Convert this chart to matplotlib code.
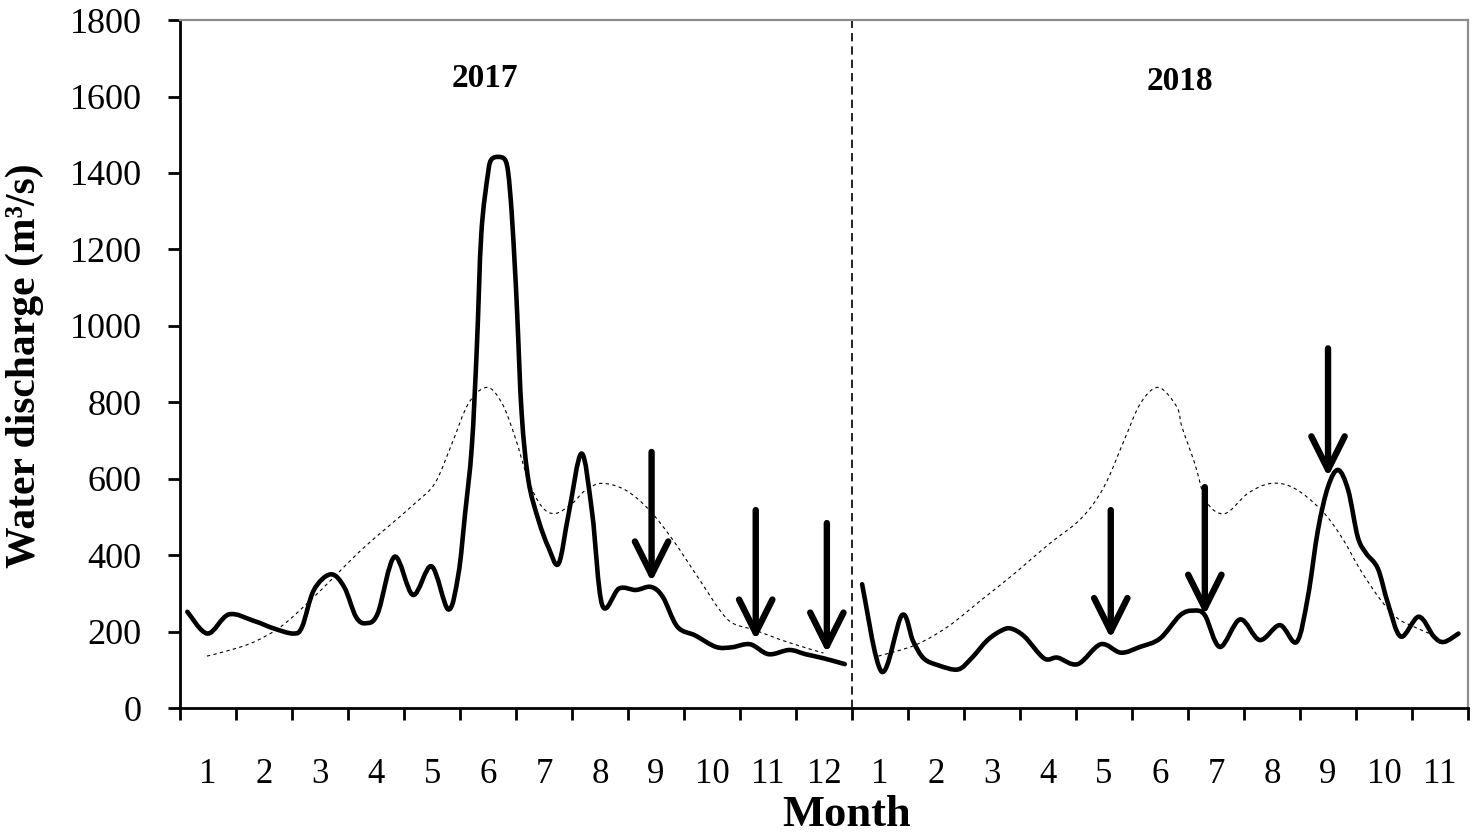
import matplotlib
matplotlib.use("Agg")
import matplotlib.pyplot as plt
from matplotlib.ticker import FixedLocator
from matplotlib.path import Path
from matplotlib.patches import PathPatch

plt.rcParams['font.family'] = ['Liberation Serif', 'DejaVu Serif']

# month positions: 0-12 = 2017, 12-23 = 2018 (x in month units)
months_2017 = [str(m) for m in range(1, 13)]
months_2018 = [str(m) for m in range(1, 12)]

t17 = [0.13, 0.49, 0.87, 1.32, 1.68, 2.03, 2.18, 2.39, 2.69, 2.93, 3.14, 3.32, 3.53,
       3.83, 4.16, 4.49, 4.79, 4.97, 5.09, 5.21, 5.30, 5.38, 5.50, 5.56, 5.68, 5.80,
       5.86, 5.92, 5.98, 6.02, 6.10, 6.22, 6.40, 6.58, 6.76, 6.94, 7.17, 7.36, 7.54,
       7.84, 8.14, 8.41, 8.62, 8.88, 9.20, 9.57, 9.85, 10.18, 10.51, 10.88, 11.17,
       11.50, 11.87]
q17 = [252, 195, 245, 228, 208, 195, 213, 309, 350, 317, 239, 222, 248,
       396, 296, 371, 258, 350, 509, 684, 945, 1242, 1400, 1435, 1442, 1435,
       1400, 1300, 1150, 1032, 771, 596, 492, 420, 378, 509, 666, 509, 269,
       313, 309, 317, 291, 213, 190, 160, 159, 167, 141, 152, 141,
       130, 115]

t18 = [12.18, 12.53, 12.89, 13.09, 13.28, 13.54, 13.89, 14.13, 14.42, 14.67, 14.84,
       15.08, 15.43, 15.67, 16.03, 16.44, 16.80, 17.14, 17.50, 17.86, 18.10, 18.30,
       18.57, 18.93, 19.28, 19.64, 19.94, 20.14, 20.32, 20.50, 20.68, 20.86, 21.03,
       21.18, 21.39, 21.57, 21.80, 22.12, 22.39, 22.57, 22.83]
q18 = [324, 95, 243, 175, 130, 112, 101, 130, 178, 203, 208,
       187, 130, 132, 115, 167, 145, 160, 182, 243, 255, 243,
       160, 232, 178, 217, 173, 291, 466, 579, 623, 570, 448,
       405, 365, 274, 187, 239, 187, 173, 195]

# multi-year mean (dotted)
tm17 = [0.48, 0.90, 1.32, 1.80, 2.27, 2.75, 3.23, 3.71, 4.19, 4.55, 4.85, 5.15, 5.48,
        5.75, 5.98, 6.22, 6.46, 6.70, 7.00, 7.24, 7.54, 7.96, 8.38, 8.80, 9.28, 9.64,
        9.87, 10.26, 10.84, 11.49]
qm17 = [136, 152, 173, 213, 274, 343, 413, 474, 535, 588, 690, 797, 839,
        797, 710, 596, 527, 509, 535, 570, 588, 570, 518, 440, 335, 256,
        222, 204, 173, 144]

tm18 = [12.47, 13.13, 13.71, 14.31, 14.90, 15.49, 16.09, 16.50, 16.86, 17.15, 17.47,
        17.80, 17.89, 18.12, 18.33, 18.66, 19.07, 19.49, 19.90, 20.38, 20.74, 21.08,
        21.44, 21.74, 22.03, 22.33]
qm18 = [136, 165, 213, 283, 352, 426, 496, 579, 701, 797, 839,
        788, 736, 640, 540, 509, 562, 588, 575, 518, 448, 361,
        283, 235, 213, 194]

# arrows: x position, tail value, tip value
arrow_t = [8.42, 10.28, 11.55, 16.62, 18.30, 20.50]
arrow_top = [670, 518, 484, 518, 578, 941]
arrow_tip = [330, 178, 144, 182, 243, 605]


def smooth_path(xs, ys):
    # excel-like smoothed line: cubic bezier through every point
    verts = [(xs[0], ys[0])]
    codes = [Path.MOVETO]
    n = len(xs)
    for i in range(n - 1):
        x0, y0 = (xs[i - 1], ys[i - 1]) if i > 0 else (xs[i], ys[i])
        x1, y1 = xs[i], ys[i]
        x2, y2 = xs[i + 1], ys[i + 1]
        x3, y3 = (xs[i + 2], ys[i + 2]) if i + 2 < n else (x2, y2)
        verts += [(x1 + (x2 - x0) / 6, y1 + (y2 - y0) / 6),
                  (x2 - (x3 - x1) / 6, y2 - (y3 - y1) / 6),
                  (x2, y2)]
        codes += [Path.CURVE4] * 3
    return Path(verts, codes)


fig = plt.figure(figsize=(14.76, 8.36), dpi=100)
ax = fig.add_axes([0.122, 0.153, 0.8726, 0.823])

for xs, ys in [(tm17, qm17), (tm18, qm18)]:
    ax.add_patch(PathPatch(smooth_path(xs, ys), fill=False, edgecolor='black',
                           lw=0.8, linestyle=(0, (3, 3))))
for xs, ys in [(t17, q17), (t18, q18)]:
    ax.add_patch(PathPatch(smooth_path(xs, ys), fill=False, edgecolor='black',
                           lw=3.3, joinstyle='round', capstyle='round'))

ax.axvline(12, color='black', lw=1.2, linestyle=(0, (5, 3)))

for x, top, tip in zip(arrow_t, arrow_top, arrow_tip):
    ax.annotate('', xy=(x, tip), xytext=(x, top),
                arrowprops=dict(arrowstyle='->, head_length=1.2, head_width=0.6',
                                lw=4.6, color='black', shrinkA=0, shrinkB=0,
                                mutation_scale=20))

ax.text(5.44, 1648, '2017', fontsize=24, fontweight='bold', ha='center', va='center')
ax.text(17.86, 1638, '2018', fontsize=24, fontweight='bold', ha='center', va='center')

ax.set_xlim(0, 23)
ax.set_ylim(0, 1800)
ax.set_yticks(range(0, 1801, 200))

ax.xaxis.set_major_locator(FixedLocator(range(0, 24)))
ax.xaxis.set_minor_locator(FixedLocator([k + 0.5 for k in range(23)]))
ax.set_xticklabels([])
ax.set_xticklabels(months_2017 + months_2018, minor=True)

ax.tick_params(axis='x', which='major', direction='out', length=8.6, width=2)
ax.tick_params(axis='x', which='minor', length=0, pad=36, labelsize=25)
ax.tick_params(axis='y', direction='out', length=8.6, width=2, pad=19, labelsize=26)

for side in ['left', 'bottom']:
    ax.spines[side].set_linewidth(2)
    ax.spines[side].set_color('black')
for side in ['top', 'right']:
    ax.spines[side].set_linewidth(1.6)
    ax.spines[side].set_color('#8c8c8c')

fig.text(25 / 1476, 1 - 366 / 836, 'Water discharge (m³/s)', rotation=90,
         ha='center', va='center', fontsize=30, fontweight='bold')
fig.text(847 / 1476, 1 - 815 / 836, 'Month', ha='center', va='center',
         fontsize=32, fontweight='bold')

plt.savefig('out.png', dpi=100)
